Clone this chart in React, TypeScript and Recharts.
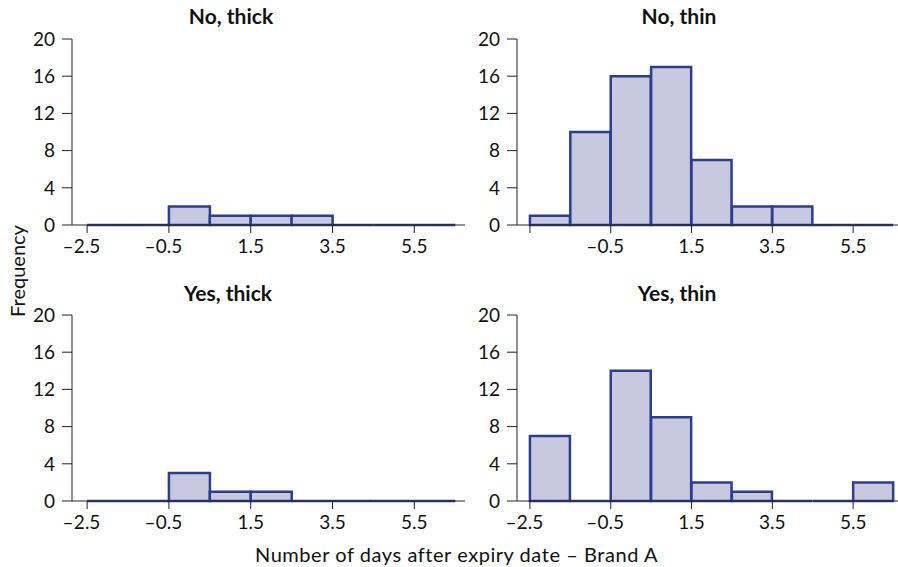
import { Bar, BarChart, XAxis, YAxis } from "recharts";

const binStarts = [-2.5, -1.5, -0.5, 0.5, 1.5, 2.5, 3.5, 4.5, 5.5];
const xTicks = [-2.5, -0.5, 1.5, 3.5, 5.5];
const yTicks = [0, 4, 8, 12, 16, 20];

const noThick = [0, 0, 2, 1, 1, 1, 0, 0, 0];
const noThin = [1, 10, 16, 17, 7, 2, 2, 0, 0];
const yesThick = [0, 0, 3, 1, 1, 0, 0, 0, 0];
const yesThin = [7, 0, 14, 9, 2, 1, 0, 0, 2];

const FONT = "Lato, 'Open Sans', sans-serif";
const FILL = "#c9c8e1";
const STROKE = "#2b3f8f";
const AXIS = "#222";
const TICK_SIZE = 19;

const toRows = (counts: number[]) =>
  binStarts.map((s, i) => ({ mid: s + 0.5, count: counts[i] }));

function HistBar(props: any) {
  const { x, y, width, height } = props;
  const base = y + height;
  return (
    <path
      d={`M${x},${base}V${y}H${x + width}V${base}Z`}
      fill={FILL}
      stroke={STROKE}
      strokeWidth={2.5}
    />
  );
}

// number centred on the tick, minus sign hanging to the left
function makeXTick(hideFirst?: boolean) {
  return function XTick(props: any) {
    const { x, y, payload } = props;
    const v: number = payload.value;
    if (hideFirst && v === -2.5) return <g />;
    const half = TICK_SIZE * 0.71;
    return (
      <g fontFamily={FONT} fontSize={TICK_SIZE} fill="#111">
        <text x={x} y={y} dy="0.9em" textAnchor="middle">
          {String(Math.abs(v))}
        </text>
        {v < 0 && (
          <text x={x - half} y={y} dy="0.9em" textAnchor="end">
            {"\u2013"}
          </text>
        )}
      </g>
    );
  };
}

interface PanelProps {
  title: string;
  counts: number[];
  left: number;
  top: number;
  width: number;
  domain: [number, number];
  hideFirstTick?: boolean;
  marginTop: number;
  axisHeight: number;
  titleCenter: number;
  titleTop: number;
}

function Panel(p: PanelProps) {
  const tick = { fill: "#111", fontSize: TICK_SIZE, fontFamily: FONT };
  return (
    <div style={{ position: "absolute", left: p.left, top: p.top }}>
      <div
        style={{
          position: "absolute",
          left: p.titleCenter - 150,
          width: 300,
          top: p.titleTop,
          textAlign: "center",
          fontFamily: FONT,
          fontWeight: 700,
          fontSize: 21,
          color: "#111",
          whiteSpace: "nowrap",
        }}
      >
        {p.title}
      </div>
      <BarChart
        width={p.width}
        height={260}
        data={toRows(p.counts)}
        margin={{ top: p.marginTop, right: 0, bottom: 0, left: 0 }}
        barCategoryGap={0}
        barGap={0}
      >
        <XAxis
          dataKey="mid"
          type="number"
          domain={p.domain}
          ticks={xTicks}
          allowDataOverflow
          height={p.axisHeight}
          tick={makeXTick(p.hideFirstTick)}
          tickLine={{ stroke: AXIS }}
          axisLine={{ stroke: AXIS }}
          tickSize={8}
          tickMargin={3}
        />
        <YAxis
          type="number"
          domain={[0, 20]}
          ticks={yTicks}
          width={72}
          fontSize={TICK_SIZE}
          tick={tick}
          tickLine={{ stroke: AXIS }}
          axisLine={{ stroke: AXIS }}
          tickSize={10}
          tickMargin={7}
        />
        <Bar dataKey="count" shape={HistBar} isAnimationActive={false} />
      </BarChart>
    </div>
  );
}

export default function App() {
  return (
    <div
      style={{
        position: "absolute",
        left: 0,
        top: 0,
        width: 898,
        height: 567,
        background: "#fff",
        overflow: "hidden",
      }}
    >
      <Panel title="No, thick" counts={noThick} left={0} top={0} width={465} domain={[-2.87, 6.74]} marginTop={39} axisHeight={35} titleCenter={231} titleTop={3} />
      <Panel title="No, thin" counts={noThin} left={445} top={0} width={453} domain={[-2.82, 6.61]} hideFirstTick marginTop={39} axisHeight={35} titleCenter={679 - 445} titleTop={3} />
      <Panel title="Yes, thick" counts={yesThick} left={0} top={277} width={465} domain={[-2.87, 6.74]} marginTop={38} axisHeight={36} titleCenter={228} titleTop={3} />
      <Panel title="Yes, thin" counts={yesThin} left={445} top={277} width={453} domain={[-2.82, 6.61]} marginTop={38} axisHeight={36} titleCenter={677 - 445} titleTop={3} />
      <div
        style={{
          position: "absolute",
          left: 17,
          top: 271,
          transform: "translate(-50%, -50%) rotate(-90deg)",
          fontFamily: FONT,
          fontSize: 20,
          color: "#111",
          whiteSpace: "nowrap",
        }}
      >
        Frequency
      </div>
      <div
        style={{
          position: "absolute",
          left: 0,
          width: 913,
          top: 542,
          textAlign: "center",
          fontFamily: FONT,
          fontSize: 20,
          letterSpacing: 0.55,
          color: "#111",
          whiteSpace: "nowrap",
        }}
      >
        Number of days after expiry date {"\u2013"} Brand A
      </div>
    </div>
  );
}
